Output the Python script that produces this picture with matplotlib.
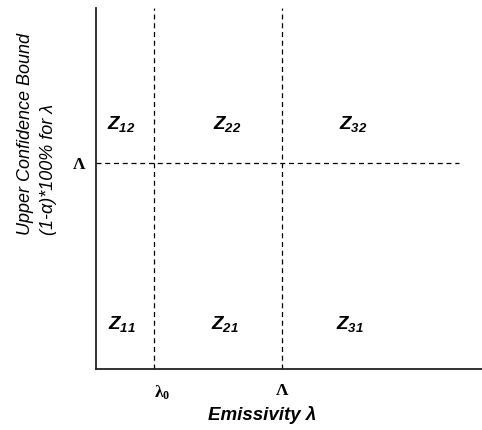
import matplotlib
matplotlib.use('Agg')
import matplotlib.pyplot as plt

# zone labels and where they sit (axes units 0..1)
zone_labels = ['Z_{12}', 'Z_{22}', 'Z_{32}', 'Z_{11}', 'Z_{21}', 'Z_{31}']
zone_x = [0.065, 0.341, 0.667, 0.067, 0.334, 0.658]
zone_y = [0.679, 0.679, 0.679, 0.125, 0.125, 0.125]

# threshold positions
x_thresholds = [0.150, 0.482]
x_tick_labels = [r'$\mathbf{\lambda}_{\mathbf{0}}$', r'$\mathbf{\Lambda}$']
y_threshold = 0.571
y_tick_label = r'$\mathbf{\Lambda}$'
h_line_end = 0.940

plt.rcParams['font.family'] = ['Liberation Sans', 'DejaVu Sans']
plt.rcParams['mathtext.fontset'] = 'custom'
plt.rcParams['mathtext.rm'] = 'Liberation Sans:italic:bold'
plt.rcParams['mathtext.it'] = 'Liberation Sans:italic:bold'
plt.rcParams['mathtext.bf'] = 'Liberation Serif:bold'

fig = plt.figure(figsize=(4.82, 4.30), dpi=100)
ax = fig.add_axes([96 / 482, 61 / 430, 386 / 482, 361 / 430])
ax.set_xlim(0, 1)
ax.set_ylim(0, 1)

#dashed split lines
for xv in x_thresholds:
    ax.plot([xv, xv], [0, 1], color='black', lw=0.9, ls=(0, (4, 3)))
ax.plot([0, h_line_end], [y_threshold, y_threshold], color='black', lw=0.9, ls=(0, (4, 3)))

for lab, zx, zy in zip(zone_labels, zone_x, zone_y):
    ax.text(zx, zy, '$' + lab + '$', ha='center', va='center', fontsize=13.5)

# ticks as serif labels
ax.set_xticks(x_thresholds)
ax.set_xticklabels(x_tick_labels, fontsize=12.5)
for t, ha in zip(ax.get_xticklabels(), ['left', 'center']):
    t.set_ha(ha)
ax.set_yticks([y_threshold])
ax.set_yticklabels([y_tick_label], fontsize=12.5)
ax.tick_params(axis='y', length=0, pad=7)
ax.tick_params(axis='x', length=0, pad=10)

for s in ['top', 'right']:
    ax.spines[s].set_visible(False)
for s in ['left', 'bottom']:
    ax.spines[s].set_linewidth(1.3)
    ax.spines[s].set_color('#222222')

fig.text(262 / 482, 1 - 415 / 430, 'Emissivity λ', ha='center', va='center',
         fontsize=13.5, style='italic', fontweight='bold')
fig.text(37 / 482, 1 - 134 / 430, 'Upper Confidence Bound\n(1-α)*100% for λ',
         ha='center', va='center', rotation=90, multialignment='left',
         fontsize=13, style='italic', linespacing=1.5)

fig.savefig('out.png', dpi=100)
